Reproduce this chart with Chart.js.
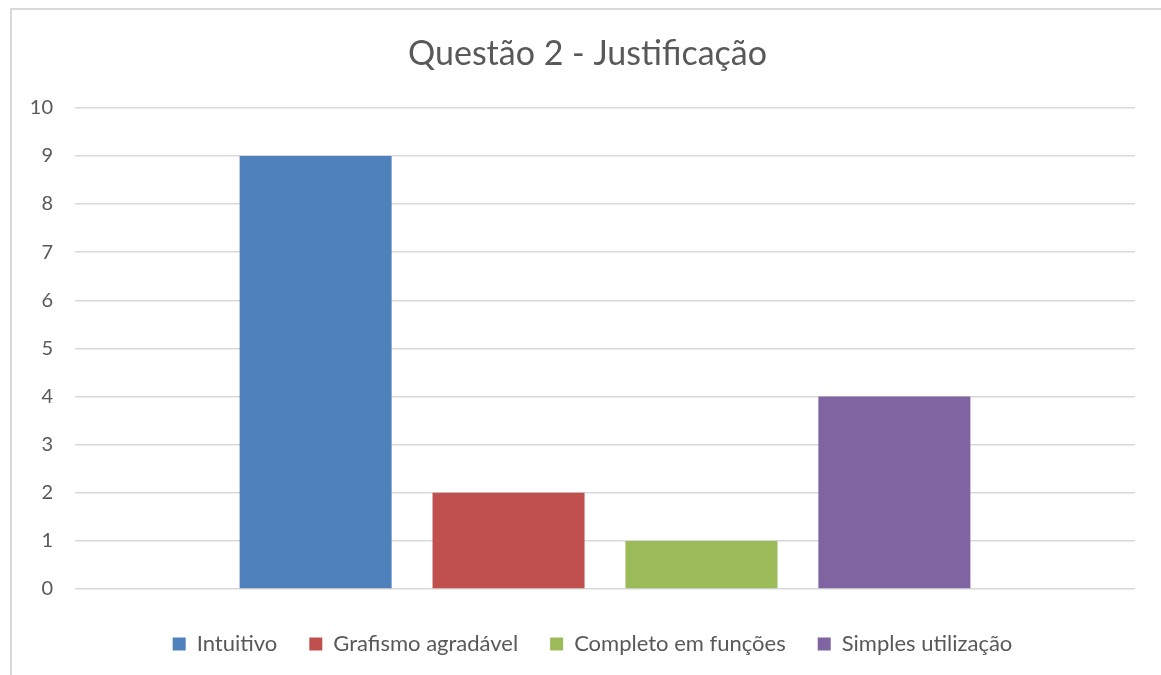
<!DOCTYPE html>
<html lang="pt">
<head>
<meta charset="UTF-8">
<title>Questão 2 - Justificação</title>
<script src="https://cdn.jsdelivr.net/npm/chart.js"></script>
<style>
html, body { margin: 0; padding: 0; background: #fff; overflow: hidden; }
#frame {
position: absolute; left: 10px; top: 8px; width: 1200px; height: 700px;
border-top: 2px solid #d9d9d9; border-left: 2px solid #d9d9d9;
}
#wrap { position: absolute; left: 0; top: 0; width: 1161px; height: 675px; }
</style>
</head>
<body>
<div id="frame"></div>
<div id="wrap"><canvas id="chart"></canvas></div>

<script>
// dados
const categories = [''];
const seriesNames = ['Intuitivo', 'Grafismo agradável', 'Completo em funções', 'Simples utilização'];
const seriesValues = [[9], [2], [1], [4]];
const seriesColors = ['#4F81BD', '#C0504D', '#9BBB59', '#8064A2'];
const yTicks = [0, 1, 2, 3, 4, 5, 6, 7, 8, 9, 10];

const FONT = 'Lato, "Open Sans", sans-serif';
const GREY = '#595959';

// centra título e legenda sobre a largura total do gráfico (como no Excel)
const shiftBoxes = {
id: 'shiftBoxes',
afterLayout(chart) {
const t = chart.titleBlock, l = chart.legend;
if (t) { t.left += 20; t.right += 20; }
if (l) { l.left += 25; l.right += 25; }
}
};

const ctx = document.getElementById('chart').getContext('2d');
new Chart(ctx, {
type: 'bar',
data: {
labels: categories,
datasets: seriesNames.map((name, i) => ({
label: name,
data: seriesValues[i],
backgroundColor: seriesColors[i],
borderWidth: 0,
categoryPercentage: 0.728,
barPercentage: 0.788
}))
},
plugins: [shiftBoxes],
options: {
responsive: true,
maintainAspectRatio: false,
animation: false,
layout: { padding: { left: 0, right: 26, top: 0, bottom: 10 } },
plugins: {
title: {
display: true,
text: 'Questão 2 - Justificação',
color: GREY,
font: { family: FONT, size: 34, weight: 'normal' },
padding: { top: 34, bottom: 33 }
},
legend: {
position: 'bottom',
labels: {
color: GREY,
font: { family: FONT, size: 22 },
boxWidth: 13,
boxHeight: 13,
padding: 32
}
},
tooltip: { enabled: false }
},
scales: {
x: {
afterFit: (s) => { s.height = 12; },
grid: { display: false },
border: { display: false },
ticks: { display: false }
},
y: {
min: 0,
max: 10,
afterBuildTicks: (s) => { s.ticks = yTicks.map(v => ({ value: v })); },
afterFit: (s) => { s.width = 75; },
grid: { color: '#d9d9d9', lineWidth: 1.5, drawTicks: false },
border: { display: false },
ticks: {
color: GREY,
font: { family: FONT, size: 20 },
padding: 22
}
}
}
}
});
</script>
</body>
</html>
